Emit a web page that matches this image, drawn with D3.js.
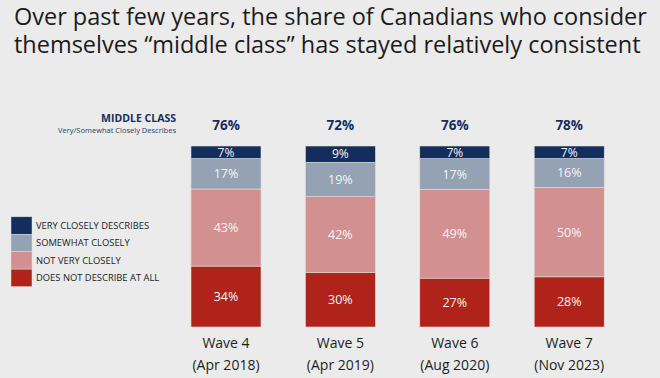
<!DOCTYPE html>
<html><head><meta charset="utf-8">
<script src="https://cdn.jsdelivr.net/npm/d3@7"></script>
<style>
html,body{margin:0;padding:0;background:#ebebeb;}
svg{display:block;font-family:"Open Sans",sans-serif;}
</style></head>
<body><svg id="c" width="660" height="378"></svg>
<script>
const waves = ["Wave 4","Wave 5","Wave 6","Wave 7"];
const dates = ["(Apr 2018)","(Apr 2019)","(Aug 2020)","(Nov 2023)"];
const totals = [76,72,76,78];
const seriesNames = ["VERY CLOSELY DESCRIBES","SOMEWHAT CLOSELY","NOT VERY CLOSELY","DOES NOT DESCRIBE AT ALL"];
const veryClosely = [7,9,7,7];
const somewhatClosely = [17,19,17,16];
const notVeryClosely = [43,42,49,50];
const notAtAll = [34,30,27,28];
const colors = ["#132d5c","#94a2b4","#d29190","#b0231a"];

const svg = d3.select("#c");
// title (one text element, two lines)
const tl = ["Over past few years, the share of Canadians who consider","themselves \u201cmiddle class\u201d has stayed relatively consistent"];
const tg = svg.append("g");
const tt = tg.append("text").attr("fill","#1c1c1c").attr("font-size",24.2);
const spans = tl.map((t,i)=>tt.append("tspan").attr("x",0).attr("y",i*28).text(t));
const w0 = spans[0].node().getComputedTextLength();
tg.attr("transform",`translate(14,25) scale(${633/w0},1)`);

const rows = waves.map((w,i)=>[notAtAll[i],notVeryClosely[i],somewhatClosely[i],veryClosely[i]]);
const x = d3.scaleBand().domain(waves).range([168.8,626.4]).paddingInner(0.388).paddingOuter(0.194);
const g = svg.append("g");
waves.forEach((w,i)=>{
  const vals = rows[i];
  const sum = d3.sum(vals);
  const y = d3.scaleLinear().domain([0,sum]).range([327,146]);
  let acc = 0;
  vals.forEach((v,k)=>{
    const ci = 3-k;
    const y0 = y(acc), y1 = y(acc+v);
    g.append("rect").attr("x",x(w)).attr("y",y1).attr("width",x.bandwidth()).attr("height",y0-y1)
      .attr("fill",colors[ci]).attr("stroke","#e2dcdc").attr("stroke-width",0.6);
    g.append("text").attr("x",x(w)+x.bandwidth()/2).attr("y",(y0+y1)/2).attr("dy","0.36em")
      .attr("text-anchor","middle").attr("fill","#f4f4f4").attr("font-size",ci===0?12:12.5).text(v+"%");
    acc += v;
  });
  g.append("text").attr("x",x(w)+x.bandwidth()/2).attr("y",125).attr("dy","0.36em")
    .attr("text-anchor","middle").attr("fill","#142f5e").attr("font-weight","bold").attr("font-size",13.5).text(totals[i]+"%");
  g.append("text").attr("x",x(w)+x.bandwidth()/2).attr("y",343).attr("dy","0.36em")
    .attr("text-anchor","middle").attr("fill","#1e1e1e").attr("font-size",14).text(w);
  g.append("text").attr("x",x(w)+x.bandwidth()/2).attr("y",365).attr("dy","0.36em")
    .attr("text-anchor","middle").attr("fill","#1e1e1e").attr("font-size",14).text(dates[i]);
});

svg.append("text").attr("x",176).attr("y",118).attr("dy","0.36em").attr("text-anchor","end")
  .attr("fill","#142f5e").attr("font-weight","bold").attr("font-size",10.5).text("MIDDLE CLASS");
svg.append("text").attr("x",176).attr("y",130).attr("dy","0.36em").attr("text-anchor","end")
  .attr("fill","#2a3f6a").attr("font-size",7.5).text("Very/Somewhat Closely Describes");

const leg = svg.append("g");
seriesNames.forEach((s,i)=>{
  const y0 = 216.8 + i*17.45;
  leg.append("rect").attr("x",11).attr("y",y0).attr("width",21).attr("height",17.45)
    .attr("fill",colors[i]).attr("stroke","#e2dcdc").attr("stroke-width",0.5);
  leg.append("text").attr("x",36).attr("y",y0+8.7).attr("dy","0.36em").attr("fill","#222")
    .attr("font-size",9.4).text(s);
});
</script></body></html>
